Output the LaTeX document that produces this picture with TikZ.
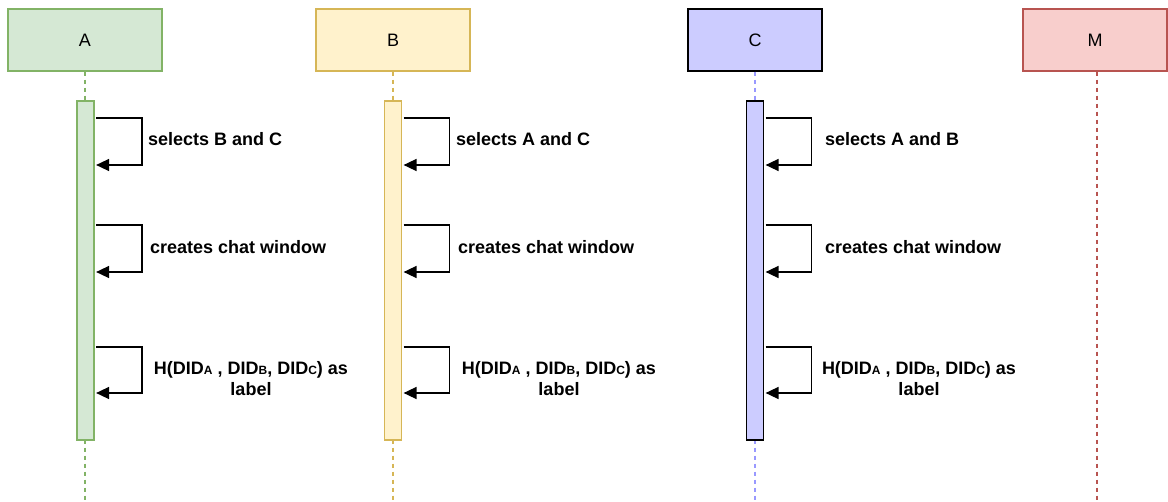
\documentclass[tikz,border=0pt]{standalone}
\usepackage{fontspec}
\setmainfont{Liberation Sans}
\usetikzlibrary{arrows.meta,calc}
\definecolor{afill}{HTML}{D5E8D4}\definecolor{aline}{HTML}{82B366}
\definecolor{bfill}{HTML}{FFF2CC}\definecolor{bline}{HTML}{D6B656}
\definecolor{cfill}{HTML}{CCCCFF}\definecolor{cline}{HTML}{9999FF}
\definecolor{mfill}{HTML}{F8CECC}\definecolor{mline}{HTML}{B85450}
\newcommand{\didsub}[1]{{\fontsize{12}{12}\selectfont #1}}
\tikzset{
  x=1pt, y=1pt,
  head/.style={rectangle, minimum width=154pt, minimum height=62pt, line width=1.2pt,
    font=\fontsize{18}{18}\selectfont, inner sep=0pt},
  life/.style={line width=1.2pt, dash pattern=on 4pt off 4pt},
  actbar/.style={rectangle, minimum width=17pt, minimum height=339pt, line width=1.2pt, inner sep=0pt},
  selfmsg/.style={draw=black, line width=1.5pt, -{Triangle[length=13pt,width=12pt]}},
  msgtext/.style={font=\fontsize{18}{21}\selectfont\bfseries, inner sep=0pt},
}
\begin{document}
\begin{tikzpicture}
\useasboundingbox (0,0) rectangle (1168,-501);

% participant heads
\node[head, fill=afill, draw=aline] (A) at (85,-40) {A};
\node[head, fill=bfill, draw=bline] (B) at (393,-40) {B};
\node[head, fill=cfill, draw=black, minimum width=134pt] (C) at (755,-40) {C};
\node[head, fill=mfill, draw=mline, minimum width=144pt] (M) at (1095,-40) {M};

% lifeline ends
\coordinate (Aend) at (85,-501);
\coordinate (Bend) at (393,-501);
\coordinate (Cend) at (755,-501);
\coordinate (Mend) at (1097,-501);

% lifelines
\draw[life, draw=aline] (A.south) -- (Aend);
\draw[life, draw=bline] (B.south) -- (Bend);
\draw[life, draw=cline] (C.south) -- (Cend);
\draw[life, draw=mline] (M.south -| Mend) -- (Mend);

% activation bars
\node[actbar, fill=afill, draw=aline] (Abar) at (85.5,-270.5) {};
\node[actbar, fill=bfill, draw=bline] (Bbar) at (393,-270.5) {};
\node[actbar, fill=cfill, draw=black] (Cbar) at (755,-270.5) {};

% self messages
\foreach \bar in {Abar, Bbar, Cbar}{
  \draw[selfmsg] ($(\bar.east |- 0,-118)+(1.5,0)$) -- ++(46,0) |- ($(\bar.east |- 0,-165)+(1.5,0)$);
  \draw[selfmsg] ($(\bar.east |- 0,-225)+(1.5,0)$) -- ++(46,0) |- ($(\bar.east |- 0,-272)+(1.5,0)$);
  \draw[selfmsg] ($(\bar.east |- 0,-347)+(1.5,0)$) -- ++(46,0) |- ($(\bar.east |- 0,-393)+(1.5,0)$);
}

% message labels
\node[msgtext, anchor=west] (t1a) at (148,-139) {selects B and C};
\node[msgtext, anchor=west] (t2a) at (150,-247) {creates chat window};
\node[msgtext, align=center] (t3a) at (251,-379)
  {H(DID\didsub{A} , DID\didsub{B}, DID\didsub{C}) as\\label};

\node[msgtext, anchor=west] (t1b) at (456,-139) {selects A and C};
\node[msgtext, anchor=west] (t2b) at (458,-247) {creates chat window};
\node[msgtext, align=center] (t3b) at (559,-379)
  {H(DID\didsub{A} , DID\didsub{B}, DID\didsub{C}) as\\label};

\node[msgtext, anchor=west] (t1c) at (825,-139) {selects A and B};
\node[msgtext, anchor=west] (t2c) at (825,-247) {creates chat window};
\node[msgtext, align=center] (t3c) at (919,-379)
  {H(DID\didsub{A} , DID\didsub{B}, DID\didsub{C}) as\\label};
\end{tikzpicture}
\end{document}
